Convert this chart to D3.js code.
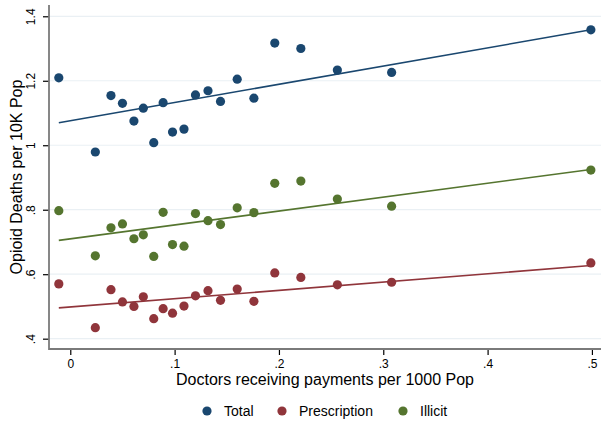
<!DOCTYPE html>
<html>
<head>
<meta charset="utf-8">
<script src="https://cdn.jsdelivr.net/npm/d3@7"></script>
<style>
  html, body { margin: 0; padding: 0; background: #fff; }
  svg { display: block; font-family: "Liberation Sans", Arial, sans-serif; }
</style>
</head>
<body>
<svg id="chart" width="601" height="421"></svg>
<script>
// Doctors receiving payments per 1000 population (one value per area)
const payments = [-0.011, 0.024, 0.039, 0.050, 0.061, 0.070, 0.080, 0.089, 0.098, 0.109,
                  0.120, 0.132, 0.144, 0.160, 0.176, 0.196, 0.221, 0.256, 0.308, 0.499];

// Opioid deaths per 10K population
const total        = [1.209, 0.979, 1.154, 1.130, 1.075, 1.115, 1.008, 1.132, 1.041, 1.050,
                      1.156, 1.169, 1.136, 1.205, 1.146, 1.317, 1.300, 1.233, 1.226, 1.358];
const prescription = [0.570, 0.434, 0.552, 0.514, 0.500, 0.530, 0.462, 0.493, 0.479, 0.501,
                      0.533, 0.549, 0.519, 0.554, 0.516, 0.604, 0.590, 0.567, 0.575, 0.635];
const illicit      = [0.797, 0.657, 0.744, 0.756, 0.710, 0.722, 0.655, 0.792, 0.692, 0.687,
                      0.788, 0.766, 0.754, 0.806, 0.791, 0.882, 0.889, 0.833, 0.811, 0.923];

// Fitted linear trend per series (Total, Prescription, Illicit)
const fitIntercept = [1.0762, 0.4983, 0.7097];
const fitSlope     = [0.5647, 0.2578, 0.4314];

const seriesNames  = ["Total", "Prescription", "Illicit"];
const seriesColors = ["#1a476f", "#90353b", "#55752f"];
const xTicks = [0, 0.1, 0.2, 0.3, 0.4, 0.5];
const yTicks = [0.4, 0.6, 0.8, 1, 1.2, 1.4];

const series = [total, prescription, illicit].map((vals, i) => ({
  name: seriesNames[i],
  color: seriesColors[i],
  a: fitIntercept[i],
  b: fitSlope[i],
  points: payments.map((x, j) => ({ x, y: vals[j] }))
}));

const svg = d3.select("#chart");
const plot = { left: 49, right: 601, top: 5, bottom: 349 };

const x = d3.scaleLinear().domain([-0.0204, 0.5087]).range([plot.left, plot.right]);
const y = d3.scaleLinear().domain([0.368, 1.435]).range([plot.bottom, plot.top]);

const tickFmt = v => v === 0 ? "0" : (v === 1 ? "1" : d3.format(".1f")(v).replace(/^0\./, "."));

// Horizontal grid
svg.append("g")
  .selectAll("line")
  .data(yTicks)
  .join("line")
  .attr("x1", plot.left + 1).attr("x2", plot.right)
  .attr("y1", d => y(d)).attr("y2", d => y(d))
  .attr("stroke", "#eaf0f4").attr("stroke-width", 1.2);

// Trend lines across the observed x range
const [xmin, xmax] = d3.extent(payments);
series.forEach(s => {
  svg.append("line")
    .attr("x1", x(xmin)).attr("y1", y(s.a + s.b * xmin))
    .attr("x2", x(xmax)).attr("y2", y(s.a + s.b * xmax))
    .attr("stroke", s.color).attr("stroke-width", 1.6);
});

// Scatter markers
series.forEach(s => {
  svg.append("g")
    .selectAll("circle")
    .data(s.points)
    .join("circle")
    .attr("cx", d => x(d.x)).attr("cy", d => y(d.y))
    .attr("r", 4.6)
    .attr("fill", s.color);
});

// Y axis
const yAxis = svg.append("g")
  .attr("transform", `translate(${plot.left},0)`)
  .call(d3.axisLeft(y).tickValues(yTicks).tickFormat(tickFmt).tickSize(6).tickPadding(4));
yAxis.select(".domain").remove();
yAxis.selectAll(".tick line").attr("stroke", "#000").attr("stroke-width", 1.2);
yAxis.selectAll(".tick text")
  .attr("font-size", 12).attr("fill", "#000")
  .attr("text-anchor", "middle")
  .attr("x", null).attr("dy", null)
  .attr("transform", "translate(-14,0) rotate(-90)");

// X axis
const xAxis = svg.append("g")
  .attr("transform", `translate(0,${plot.bottom})`)
  .call(d3.axisBottom(x).tickValues(xTicks).tickFormat(tickFmt).tickSize(6).tickPadding(4));
xAxis.select(".domain").remove();
xAxis.selectAll(".tick line").attr("stroke", "#000").attr("stroke-width", 1.2);
xAxis.selectAll(".tick text").attr("font-size", 12).attr("fill", "#000");

// Axis lines
svg.append("line")
  .attr("x1", plot.left).attr("x2", plot.left)
  .attr("y1", plot.top).attr("y2", plot.bottom + 1)
  .attr("stroke", "#7a7a7a").attr("stroke-width", 1.8);
svg.append("line")
  .attr("x1", plot.left).attr("x2", plot.right)
  .attr("y1", plot.bottom).attr("y2", plot.bottom)
  .attr("stroke", "#7a7a7a").attr("stroke-width", 1.8);

// Axis titles
svg.append("text")
  .attr("x", (plot.left + plot.right) / 2).attr("y", 385)
  .attr("text-anchor", "middle").attr("font-size", 16).attr("fill", "#000")
  .text("Doctors receiving payments per 1000 Pop");
svg.append("text")
  .attr("transform", `translate(22,${(plot.top + plot.bottom) / 2}) rotate(-90)`)
  .attr("text-anchor", "middle").attr("font-size", 16).attr("fill", "#000")
  .text("Opioid Deaths per 10K Pop");

// Legend
const legendX = [207, 282, 403];
const legend = svg.append("g");
series.forEach((s, i) => {
  legend.append("circle")
    .attr("cx", legendX[i]).attr("cy", 411).attr("r", 4.6).attr("fill", s.color);
  legend.append("text")
    .attr("x", legendX[i] + 17).attr("y", 416)
    .attr("font-size", 14).attr("fill", "#000")
    .text(s.name);
});
</script>
</body>
</html>
